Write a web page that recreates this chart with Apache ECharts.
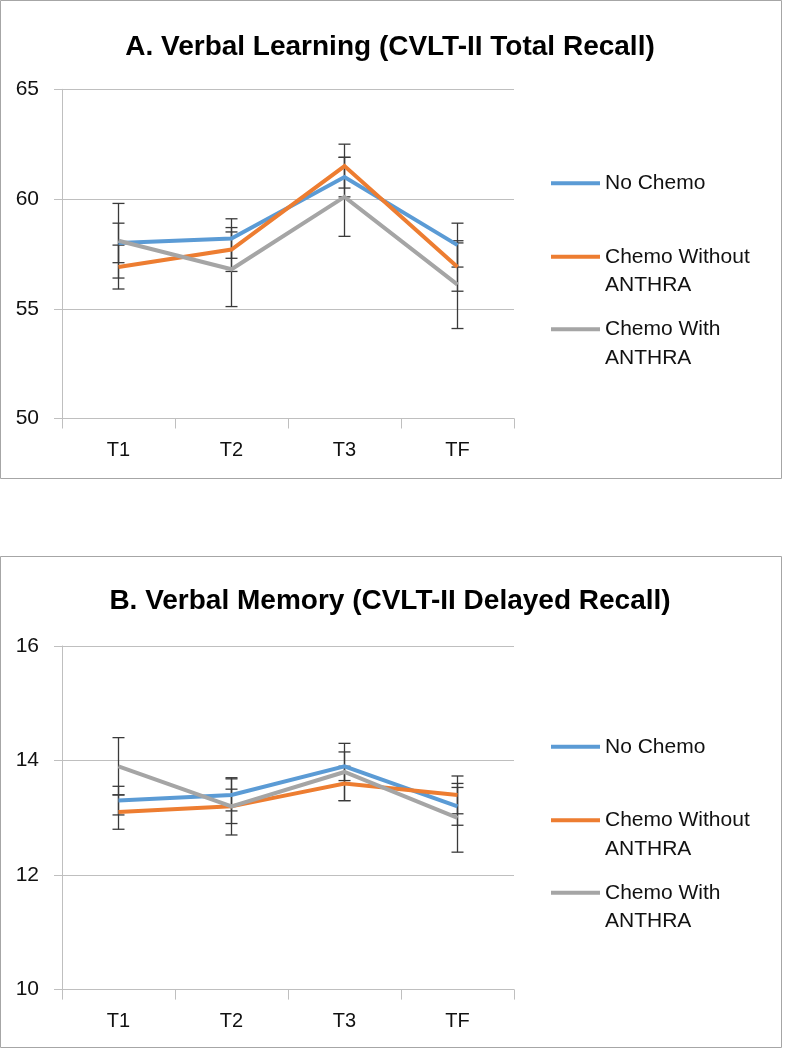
<!DOCTYPE html>
<html>
<head>
<meta charset="utf-8">
<script src="https://cdn.jsdelivr.net/npm/echarts@6/dist/echarts.min.js"></script>
<style>
html,body{margin:0;padding:0;background:#fff;}
#chart{width:785px;height:1050px;}
</style>
</head>
<body>
<div id="chart"></div>
<script>
// ---- data ----
const categories = ['T1', 'T2', 'T3', 'TF'];
const seriesNames = ['No Chemo', 'Chemo Without ANTHRA', 'Chemo With ANTHRA'];
const titleA = 'A. Verbal Learning (CVLT-II Total Recall)';
const titleB = 'B. Verbal Memory (CVLT-II Delayed Recall)';

// Panel A: CVLT-II Total Recall
const noChemoA = [58.0, 58.2, 61.0, 57.9];
const noChemoErrA = [0.9, 0.9, 0.9, 1.0];
const withoutAnthraA = [56.9, 57.7, 61.5, 56.9];
const withoutAnthraErrA = [1.0, 1.0, 1.0, 1.1];
const withAnthraA = [58.1, 56.8, 60.1, 56.1];
const withAnthraErrA = [1.7, 1.7, 1.8, 2.0];
const yTicksA = [50, 55, 60, 65];

// Panel B: CVLT-II Delayed Recall
const noChemoB = [13.3, 13.4, 13.9, 13.2];
const noChemoErrB = [0.25, 0.28, 0.25, 0.33];
const withoutAnthraB = [13.1, 13.2, 13.6, 13.4];
const withoutAnthraErrB = [0.3, 0.3, 0.3, 0.33];
const withAnthraB = [13.9, 13.2, 13.8, 13.0];
const withAnthraErrB = [0.5, 0.5, 0.5, 0.6];
const yTicksB = [10, 12, 14, 16];

// ---- styles ----
const colors = ['#5B9BD5', '#ED7D31', '#A5A5A5'];
const gridColor = '#BFBFBF';
const textColor = '#111111';
const baseFont = 'Liberation Sans, Arial, sans-serif';
const titleFont = 'Liberation Sans, Arial, sans-serif';

const chart = echarts.init(document.getElementById('chart'), null, {renderer: 'canvas'});

function errData(vals, errs) {
  return vals.map((v, i) => [i, v - errs[i], v + errs[i]]);
}

function errorSeries(name, vals, errs, idx) {
  return {
    type: 'custom',
    name: name + ' error',
    xAxisIndex: idx, yAxisIndex: idx,
    z: 1,
    silent: true,
    data: errData(vals, errs),
    encode: {x: 0, y: [1, 2]},
    renderItem: function (params, api) {
      const x = api.value(0);
      const lo = api.coord([x, api.value(1)]);
      const hi = api.coord([x, api.value(2)]);
      const hw = 6;
      const st = {stroke: '#3a3a3a', lineWidth: 1.3};
      return {
        type: 'group',
        children: [
          {type: 'line', shape: {x1: lo[0], y1: lo[1], x2: hi[0], y2: hi[1]}, style: st},
          {type: 'line', shape: {x1: lo[0] - hw, y1: lo[1], x2: lo[0] + hw, y2: lo[1]}, style: st},
          {type: 'line', shape: {x1: hi[0] - hw, y1: hi[1], x2: hi[0] + hw, y2: hi[1]}, style: st}
        ]
      };
    }
  };
}

function lineSeries(name, vals, idx, ci) {
  return {
    type: 'line',
    name: name,
    xAxisIndex: idx, yAxisIndex: idx,
    z: 3,
    data: vals,
    symbol: 'none',
    color: colors[ci],
    lineStyle: {width: 4, color: colors[ci], join: 'miter'}
  };
}

function xAxisCfg(idx) {
  return {
    type: 'category',
    gridIndex: idx,
    data: categories,
    boundaryGap: true,
    axisLine: {show: true, lineStyle: {color: gridColor, width: 1}},
    axisTick: {show: true, length: 10, lineStyle: {color: gridColor}, interval: 0},
    axisLabel: {color: textColor, fontSize: 20, fontFamily: baseFont, margin: 22}
  };
}

function yAxisCfg(idx, ticks) {
  return {
    type: 'value',
    gridIndex: idx,
    min: ticks[0],
    max: ticks[ticks.length - 1],
    interval: ticks[1] - ticks[0],
    axisLine: {show: true, lineStyle: {color: gridColor, width: 1}},
    axisTick: {show: true, length: 8, lineStyle: {color: gridColor}},
    splitLine: {show: true, lineStyle: {color: gridColor, width: 1}},
    axisLabel: {color: textColor, fontSize: 21, fontFamily: baseFont, margin: 23}
  };
}

function legendName(name) {
  if (name === 'No Chemo') return name;
  const parts = name.split(' ');
  const last = parts.pop();
  return '\n' + parts.join(' ') + '\n' + last;
}

function legendCfg(name, ci, top) {
  return {
    data: [name],
    left: 551,
    top: top,
    padding: 0,
    orient: 'vertical',
    icon: 'rect',
    itemWidth: 49,
    itemHeight: 4,
    selectedMode: false,
    formatter: legendName,
    textStyle: {color: textColor, fontSize: 21, fontFamily: baseFont, lineHeight: 28.5, padding: [0, 0, 0, 0]}
  };
}

const legendTopsA = [169, 214, 286.5];
const legendOffsetB = 563.5;

const legends = [];
seriesNames.forEach((n, i) => legends.push(legendCfg(n, i, legendTopsA[i])));
seriesNames.forEach((n, i) => legends.push(legendCfg(n, i, legendTopsA[i] + legendOffsetB)));

const option = {
  animation: false,
  backgroundColor: '#ffffff',
  title: [
    {text: titleA, left: 385, textAlign: 'center', top: 26,
     textStyle: {fontSize: 28, fontWeight: 'bold', color: '#000', fontFamily: titleFont, lineHeight: 32}},
    {text: titleB, left: 385, textAlign: 'center', top: 580,
     textStyle: {fontSize: 28, fontWeight: 'bold', color: '#000', fontFamily: titleFont, lineHeight: 32}}
  ],
  legend: legends,
  grid: [
    {left: 62, width: 452, top: 89.3, height: 329.2, containLabel: false},
    {left: 62, width: 452, top: 646, height: 343.6, containLabel: false}
  ],
  xAxis: [xAxisCfg(0), xAxisCfg(1)],
  yAxis: [yAxisCfg(0, yTicksA), yAxisCfg(1, yTicksB)],
  graphic: [
    {type: 'rect', shape: {x: 0.5, y: 0.5, width: 781, height: 478}, style: {fill: 'none', stroke: '#A6A6A6', lineWidth: 1}, z: 0, silent: true},
    {type: 'rect', shape: {x: 0.5, y: 556.5, width: 781, height: 491}, style: {fill: 'none', stroke: '#A6A6A6', lineWidth: 1}, z: 0, silent: true}
  ],
  series: [
    errorSeries(seriesNames[0], noChemoA, noChemoErrA, 0),
    errorSeries(seriesNames[1], withoutAnthraA, withoutAnthraErrA, 0),
    errorSeries(seriesNames[2], withAnthraA, withAnthraErrA, 0),
    lineSeries(seriesNames[0], noChemoA, 0, 0),
    lineSeries(seriesNames[1], withoutAnthraA, 0, 1),
    lineSeries(seriesNames[2], withAnthraA, 0, 2),
    errorSeries(seriesNames[0], noChemoB, noChemoErrB, 1),
    errorSeries(seriesNames[1], withoutAnthraB, withoutAnthraErrB, 1),
    errorSeries(seriesNames[2], withAnthraB, withAnthraErrB, 1),
    lineSeries(seriesNames[0], noChemoB, 1, 0),
    lineSeries(seriesNames[1], withoutAnthraB, 1, 1),
    lineSeries(seriesNames[2], withAnthraB, 1, 2)
  ]
};

chart.setOption(option);
</script>
</body>
</html>
